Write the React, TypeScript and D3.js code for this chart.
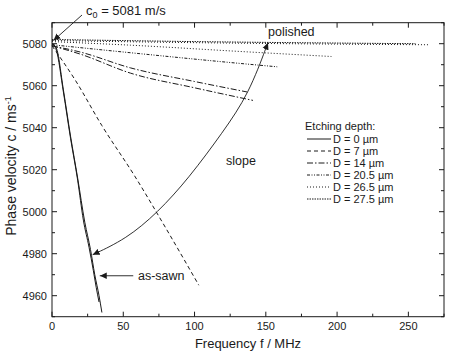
import React from "react";
import * as d3 from "d3";

// dispersion curves, frequency (MHz) and phase velocity (m/s)
const fD0a = [0, 3, 8, 13, 18, 23, 27, 30, 33, 35];
const cD0a = [5080, 5078, 5058, 5036, 5016, 4995, 4982, 4970, 4960, 4952];
const fD0b = [0, 3, 8, 13, 18, 22, 26, 29, 31, 33];
const cD0b = [5080, 5077, 5057, 5035, 5015, 4996, 4983, 4972, 4964, 4957];
const fD7 = [0, 16, 35, 58, 80, 103];
const cD7 = [5079, 5063, 5041, 5017, 4992, 4965];
const fD14a = [0, 20, 55, 100, 141];
const cD14a = [5079, 5075, 5066, 5059, 5053];
const fD14b = [0, 20, 55, 100, 137];
const cD14b = [5079, 5076, 5068.5, 5062, 5057];
const fD20 = [0, 55, 132, 158];
const cD20 = [5079.5, 5075.7, 5070.6, 5069];
const fD26a = [0, 55, 132, 196];
const cD26a = [5081, 5079.3, 5076.3, 5073.9];
const fD26b = [0, 100, 200, 265];
const cD26b = [5081.5, 5080.5, 5079.8, 5079.5];
const fD27 = [0, 100, 200, 255];
const cD27 = [5082, 5081, 5080.3, 5080];

// "slope" annotation path from as-sawn to polished
const fSlope = [28.5, 52, 74, 96, 120, 138, 151.5];
const cSlope = [4979.5, 4987, 4999.5, 5016, 5038, 5056, 5080.5];

const legendLabels = ["D = 0 µm", "D = 7 µm", "D = 14 µm", "D = 20.5 µm", "D = 26.5 µm", "D = 27.5 µm"];
const xMajor = [0, 50, 100, 150, 200, 250];
const xMinor = [25, 75, 125, 175, 225, 275];
const yMajor = [4960, 4980, 5000, 5020, 5040, 5060, 5080];
const yMinor = [4950, 4970, 4990, 5010, 5030, 5050, 5070, 5090];

const dashes = ["none", "4,3", "6,2,1.5,2", "3,1.5,1,1.5,1,1.5", "1,2", "1.5,1"];

const W = 450, H = 354;
const left = 52, right = 444, top = 22.7, bottom = 316.7;
const ink = "#1a1a1a";
const font = "'Liberation Sans', Arial, sans-serif";

export default function App() {
  const x = d3.scaleLinear().domain([0, 275]).range([left, right]);
  const y = d3.scaleLinear().domain([4950, 5090]).range([bottom, top]);

  const line = d3.line<[number, number]>()
    .x(d => x(d[0]))
    .y(d => y(d[1]))
    .curve(d3.curveMonotoneX);
  const zip = (f: number[], c: number[]) => f.map((v, i) => [v, c[i]] as [number, number]);

  const curves = [
    { f: fD0a, c: cD0a, s: 0 },
    { f: fD0b, c: cD0b, s: 0 },
    { f: fD7, c: cD7, s: 1 },
    { f: fD14a, c: cD14a, s: 2 },
    { f: fD14b, c: cD14b, s: 2 },
    { f: fD20, c: cD20, s: 3 },
    { f: fD26a, c: cD26a, s: 4 },
    { f: fD26b, c: cD26b, s: 4 },
    { f: fD27, c: cD27, s: 5 },
  ];

  const slopePath = d3.line<[number, number]>()
    .x(d => x(d[0]))
    .y(d => y(d[1]))
    .curve(d3.curveBasis)(zip(fSlope, cSlope));

  return (
    <div style={{ position: "absolute", left: 0, top: 0 }}>
      <svg width={W} height={H} style={{ display: "block", background: "#fff" }} fontFamily={font}>
        <defs>
          <marker id="arr" viewBox="0 0 10 10" refX="10" refY="5" markerWidth="7" markerHeight="7"
            markerUnits="userSpaceOnUse" orient="auto-start-reverse">
            <path d="M0,0.5 L10,5 L0,9.5 z" fill={ink} />
          </marker>
        </defs>

        {/* frame */}
        <rect x={left} y={top} width={right - left} height={bottom - top} fill="none" stroke={ink} strokeWidth={1} />

        {/* x ticks, inward on bottom and top */}
        {xMajor.map(v => (
          <g key={"xm" + v}>
            <line x1={x(v)} x2={x(v)} y1={bottom} y2={bottom - 5} stroke={ink} />
            <line x1={x(v)} x2={x(v)} y1={top} y2={top + 5} stroke={ink} />
            <text x={x(v)} y={330} textAnchor="middle" fontSize={11} fill={ink}>{v}</text>
          </g>
        ))}
        {xMinor.map(v => (
          <g key={"xn" + v}>
            <line x1={x(v)} x2={x(v)} y1={bottom} y2={bottom - 3} stroke={ink} />
            <line x1={x(v)} x2={x(v)} y1={top} y2={top + 3} stroke={ink} />
          </g>
        ))}
        {yMajor.map(v => (
          <g key={"ym" + v}>
            <line x1={left} x2={left + 5} y1={y(v)} y2={y(v)} stroke={ink} />
            <line x1={right} x2={right - 5} y1={y(v)} y2={y(v)} stroke={ink} />
            <text x={47} y={y(v) + 4} textAnchor="end" fontSize={11} fill={ink}>{v}</text>
          </g>
        ))}
        {yMinor.map(v => (
          <g key={"yn" + v}>
            <line x1={left} x2={left + 3} y1={y(v)} y2={y(v)} stroke={ink} />
            <line x1={right} x2={right - 3} y1={y(v)} y2={y(v)} stroke={ink} />
          </g>
        ))}

        {/* axis titles */}
        <text x={248} y={348} textAnchor="middle" fontSize={13} fill={ink}>Frequency f / MHz</text>
        <text transform={`translate(16,${166}) rotate(-90)`} textAnchor="middle" fontSize={14} fill={ink}>
          Phase velocity c / ms<tspan dy={-5} fontSize={9}>-1</tspan>
        </text>

        {/* curves */}
        {curves.map((cv, i) => (
          <path key={i} d={line(zip(cv.f, cv.c)) || ""} fill="none" stroke={ink} strokeWidth={1}
            strokeDasharray={dashes[cv.s]} />
        ))}

        {/* annotations */}
        <path d={slopePath || ""} fill="none" stroke={ink} strokeWidth={0.9}
          markerStart="url(#arr)" markerEnd="url(#arr)" />
        <line x1={x(57)} x2={x(33.5)} y1={y(4969.5)} y2={y(4969.5)} stroke={ink} strokeWidth={0.9} markerEnd="url(#arr)" />
        <line x1={82} y1={15} x2={x(1)} y2={y(5081.5)} stroke={ink} strokeWidth={0.9} markerEnd="url(#arr)" />

        <text x={86} y={15} fontSize={13} fill={ink}>
          c<tspan dy={3} fontSize={9}>0</tspan><tspan dy={-3}> = 5081 m/s</tspan>
        </text>
        <text x={268} y={36} fontSize={12.5} fill={ink}>polished</text>
        <text x={226} y={165} fontSize={12.5} fill={ink}>slope</text>
        <text x={138} y={280} fontSize={12.5} fill={ink}>as-sawn</text>

        {/* legend */}
        <text x={305} y={130} fontSize={11} fill={ink}>Etching depth:</text>
        {legendLabels.map((lab, i) => {
          const ly = 139 + i * 12;
          return (
            <g key={lab}>
              <line x1={307} x2={331} y1={ly} y2={ly} stroke={ink} strokeWidth={1} strokeDasharray={dashes[i]} />
              <text x={333} y={ly + 4} fontSize={11} fill={ink}>{lab}</text>
            </g>
          );
        })}
      </svg>
    </div>
  );
}
